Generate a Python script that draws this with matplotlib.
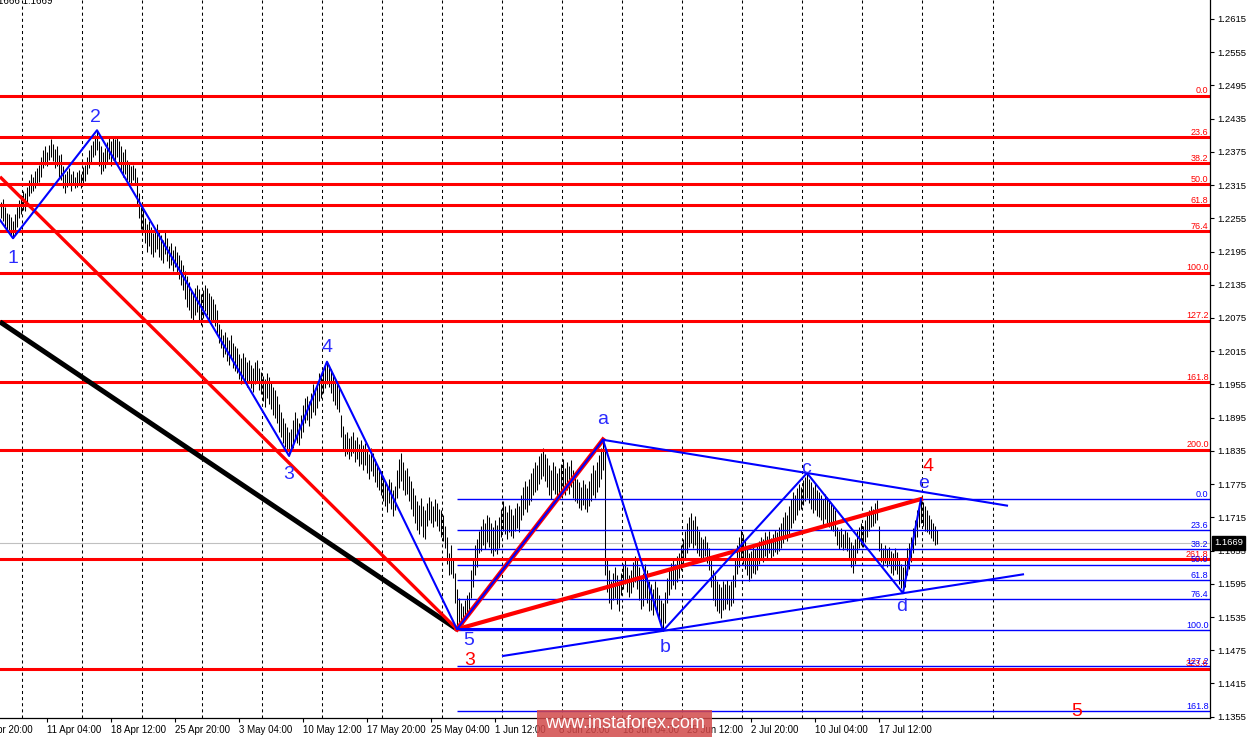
import numpy as np
import matplotlib
matplotlib.use("Agg")
import matplotlib.pyplot as plt
from matplotlib.patches import Rectangle
from matplotlib.transforms import blended_transform_factory

plt.rcParams['font.family'] = ['Liberation Sans', 'DejaVu Sans']
plt.rcParams['lines.scale_dashes'] = False

# EURUSD H4 bars, high / low in pips above 1.0000
highs = [
    2285, 2290, 2275, 2265, 2262, 2258, 2250, 2262,
    2275, 2288, 2298, 2305, 2300, 2312,
    2325, 2335, 2330, 2340, 2345, 2352,
    2365, 2378, 2385, 2375, 2388, 2398, 2390,
    2380, 2385, 2370, 2372, 2350, 2335,
    2340, 2345, 2335, 2340, 2330, 2338, 2342, 2335, 2348, 2352,
    2365, 2378, 2388, 2395, 2405, 2414,
    2395, 2385, 2375, 2382, 2392, 2400, 2395, 2402, 2398, 2403, 2395, 2385, 2375, 2380,
    2360, 2355, 2350, 2352, 2345,
    2330, 2300, 2275, 2270, 2255, 2245, 2250, 2240, 2228, 2238, 2245, 2230,
    2225, 2215, 2232, 2220, 2205, 2210, 2198, 2205, 2195, 2188, 2180, 2170, 2160,
    2150, 2140, 2125, 2120, 2130, 2135,
    2128, 2118, 2125, 2135, 2130, 2120, 2115, 2110, 2100, 2090,
    2065, 2055, 2045, 2050, 2040, 2035, 2045, 2030, 2025,
    2020, 2010, 2002, 2012, 2005, 1995, 2000, 1990, 1985, 1995, 2000, 1985, 1978,
    1970, 1965, 1975, 1968, 1960, 1950, 1945,
    1935, 1920, 1905, 1895, 1885, 1878, 1870,
    1875, 1890, 1905, 1895, 1885, 1900, 1918, 1930, 1935, 1925, 1940, 1955, 1948, 1962, 1975, 1968, 1980, 1988, 1996,
    1990, 1982, 1970, 1965, 1955, 1948,
    1900, 1880, 1865, 1870, 1858,
    1862, 1870, 1855, 1860, 1848, 1855, 1845, 1850, 1838, 1830, 1840, 1832, 1820, 1812, 1805,
    1798, 1790, 1780, 1772, 1785, 1778, 1765, 1772,
    1800, 1820, 1832, 1815, 1800, 1805, 1790,
    1780, 1768, 1755, 1745, 1738, 1750, 1735, 1728,
    1740, 1752, 1745, 1735, 1748, 1740, 1730,
    1728, 1720, 1700, 1680, 1650, 1665, 1640, 1615, 1585,
    1570, 1560, 1555, 1565, 1575, 1580, 1620, 1640, 1665, 1675,
    1690, 1700, 1712, 1705, 1720, 1715, 1705, 1698, 1710, 1702, 1715,
    1730, 1745, 1735, 1725, 1738, 1730, 1720, 1732, 1740, 1735,
    1755, 1770, 1780, 1772, 1785, 1795, 1805, 1815, 1810, 1825, 1832, 1840, 1830,
    1822, 1810, 1800, 1815, 1808, 1795, 1805,
    1812, 1820, 1805, 1815, 1808, 1818, 1800, 1795,
    1785, 1778, 1770, 1782, 1775, 1768, 1780,
    1795, 1810, 1800, 1815, 1828, 1840, 1855,
    1840, 1640, 1620, 1600, 1615, 1625, 1610, 1600,
    1615, 1630, 1640, 1625, 1610, 1620, 1635, 1645,
    1640, 1625, 1605, 1615, 1630, 1620, 1600,
    1595, 1585, 1600, 1590, 1575, 1565, 1560, 1580,
    1605, 1620, 1632, 1640, 1630, 1645, 1650,
    1665, 1675, 1690, 1705, 1715, 1722, 1710, 1718, 1700, 1690,
    1680, 1675, 1682, 1670, 1660, 1640, 1620, 1610, 1600, 1595,
    1590, 1600, 1595, 1602, 1592, 1600, 1610,
    1640, 1665, 1680, 1692, 1685, 1675,
    1660, 1650, 1655, 1665, 1658, 1668,
    1672, 1680, 1675, 1688, 1682, 1690, 1678, 1685, 1692, 1688, 1698,
    1705, 1715, 1725, 1720, 1735, 1748, 1760, 1755, 1768, 1775, 1770, 1782, 1788, 1795,
    1785, 1778, 1770, 1775, 1765, 1760,
    1755, 1748, 1758, 1752, 1745, 1740, 1735, 1728,
    1698, 1690, 1695, 1685, 1692, 1688, 1680, 1670, 1665, 1675,
    1690, 1698, 1705, 1700, 1710, 1720, 1728, 1735, 1730, 1740, 1746,
    1700, 1668, 1660, 1665, 1658, 1662, 1655, 1650, 1660, 1652, 1640,
    1630, 1625, 1640, 1660, 1668, 1680, 1695, 1710, 1728, 1740, 1748, 1742, 1735, 1728, 1720, 1712, 1705, 1700, 1692,
]
lows = [
    2255, 2250, 2240, 2232, 2228, 2225, 2219, 2226,
    2240, 2255, 2262, 2270, 2268, 2280,
    2295, 2300, 2305, 2310, 2318, 2320,
    2330, 2345, 2352, 2350, 2360, 2365, 2358,
    2345, 2350, 2330, 2325, 2310, 2300,
    2312, 2318, 2305, 2315, 2310, 2312, 2315, 2310, 2318, 2322,
    2335, 2345, 2355, 2365, 2370, 2378,
    2350, 2335, 2340, 2345, 2355, 2362, 2350, 2360, 2355, 2365, 2355, 2340, 2330, 2335,
    2325, 2320, 2318, 2325, 2315,
    2280, 2255, 2235, 2230, 2210, 2195, 2205, 2190, 2185, 2195, 2200, 2185,
    2180, 2175, 2190, 2178, 2165, 2170, 2160, 2168, 2158, 2145, 2135, 2125, 2110,
    2095, 2090, 2075, 2068, 2080, 2085,
    2070, 2062, 2075, 2088, 2080, 2070, 2065, 2068, 2060, 2045,
    2030, 2020, 2005, 2010, 1998, 1990, 2005, 1985, 1980,
    1975, 1965, 1955, 1968, 1960, 1950, 1958, 1948, 1942, 1955, 1960, 1945, 1938,
    1925, 1915, 1930, 1920, 1910, 1900, 1895,
    1885, 1870, 1860, 1850, 1842, 1835, 1826,
    1835, 1840, 1855, 1850, 1845, 1858, 1870, 1885, 1890, 1880, 1895, 1905, 1900, 1912, 1925, 1930, 1940, 1948, 1955,
    1950, 1940, 1925, 1918, 1910, 1905,
    1860, 1835, 1825, 1830, 1820,
    1825, 1832, 1815, 1820, 1808, 1812, 1800, 1810, 1795, 1785, 1798, 1790, 1778, 1770, 1765,
    1755, 1745, 1735, 1725, 1740, 1730, 1718, 1728,
    1750, 1768, 1780, 1765, 1755, 1758, 1745,
    1730, 1718, 1705, 1692, 1685, 1700, 1680, 1675,
    1700, 1710, 1705, 1698, 1708, 1700, 1690,
    1680, 1672, 1660, 1630, 1610, 1612, 1605, 1560, 1513,
    1520, 1528, 1522, 1530, 1535, 1540, 1570, 1590, 1610, 1625,
    1650, 1655, 1665, 1658, 1670, 1662, 1650, 1645, 1655, 1648, 1660,
    1680, 1690, 1685, 1675, 1688, 1682, 1678, 1690, 1695, 1688,
    1710, 1720, 1730, 1725, 1738, 1745, 1755, 1760, 1765, 1775, 1785, 1790, 1780,
    1770, 1755, 1748, 1765, 1758, 1745, 1752,
    1760, 1768, 1755, 1765, 1758, 1770, 1750, 1745,
    1740, 1732, 1728, 1738, 1730, 1725, 1735,
    1745, 1755, 1750, 1760, 1770, 1785, 1800,
    1610, 1580, 1560, 1550, 1565, 1570, 1558, 1545,
    1575, 1585, 1595, 1580, 1572, 1578, 1590, 1598,
    1585, 1565, 1550, 1555, 1570, 1560, 1545,
    1548, 1538, 1550, 1540, 1528, 1520, 1510, 1525,
    1560, 1575, 1585, 1592, 1585, 1598, 1605,
    1620, 1630, 1640, 1650, 1662, 1668, 1660, 1665, 1650, 1645,
    1640, 1638, 1645, 1632, 1620, 1590, 1565, 1555, 1545, 1542,
    1533, 1548, 1550, 1558, 1548, 1555, 1560,
    1590, 1612, 1625, 1640, 1630, 1622,
    1610, 1600, 1605, 1615, 1612, 1620,
    1630, 1638, 1635, 1645, 1640, 1650, 1638, 1645, 1652, 1648, 1655,
    1660, 1668, 1675, 1672, 1685, 1695, 1705, 1710, 1720, 1728, 1730, 1738, 1745, 1750,
    1740, 1730, 1722, 1728, 1718, 1715,
    1710, 1700, 1712, 1705, 1698, 1692, 1690, 1682,
    1665, 1658, 1662, 1656, 1660, 1655, 1640, 1625, 1614, 1630,
    1650, 1660, 1665, 1662, 1670, 1680, 1690, 1698, 1700, 1705, 1710,
    1655, 1635, 1628, 1632, 1625, 1630, 1615, 1610, 1620, 1612, 1595,
    1588, 1578, 1590, 1610, 1622, 1635, 1650, 1665, 1680, 1698, 1705, 1700, 1690, 1688, 1685, 1678, 1672, 1665, 1666,
]
assert len(highs) == len(lows)

last_price = 1.1669
header_text = '1.1666 1.1669'

date_ticks = [-9, 23, 55, 87, 119, 151, 183, 215, 247, 279, 311, 343, 375, 407, 439]
date_labels = ['4 Apr 20:00', '11 Apr 04:00', '18 Apr 12:00', '25 Apr 20:00',
               '3 May 04:00', '10 May 12:00', '17 May 20:00', '25 May 04:00',
               '1 Jun 12:00', '8 Jun 20:00', '18 Jun 04:00', '25 Jun 12:00',
               '2 Jul 20:00', '10 Jul 04:00', '17 Jul 12:00']
grid_bars = [10.35, 40.35, 70.35, 100.35, 130.35, 160.35, 190.35, 220.35, 250.35,
             280.35, 310.35, 340.35, 370.35, 400.35, 430.35, 460.35, 496.0]

price_ticks = [1.2615, 1.2555, 1.2495, 1.2435, 1.2375, 1.2315, 1.2255, 1.2195,
               1.2135, 1.2075, 1.2015, 1.1955, 1.1895, 1.1835, 1.1775, 1.1715,
               1.1655, 1.1595, 1.1535, 1.1475, 1.1415, 1.1355]

# big fibo (red) and triangle fibo (blue)
fib_red_0, fib_red_100 = 1.24765, 1.21568
fib_red_levels = [0.0, 23.6, 38.2, 50.0, 61.8, 76.4, 100.0, 127.2, 161.8, 200.0, 261.8, 323.6]
fib_blue_0, fib_blue_100 = 1.17476, 1.15110
fib_blue_levels = [0.0, 23.6, 38.2, 50.0, 61.8, 76.4, 100.0, 127.2, 161.8]

# wave marks
wave_names = ['1', '2', '3', '4', '5', 'a', 'b', 'c', 'd', 'e']
wave_bars = [6, 48, 144, 163, 228, 301, 331, 403, 451, 460]
wave_high = [False, True, False, True, False, True, False, True, False, True]
wave_offsets = [(0, -20), (-2, 13), (0, -19), (0, 14), (12, -11),
                (0, 20), (2, -17), (-1, 5), (-1, -13), (3, 16)]
zigzag_start = (-0.5, 1.2252)
red_channel_start = (-0.5, 1.2330)
black_line_start = (-0.5, 1.2068)
upper_end_bar = 503
lower_span = (251, 511)
target5 = (538, 1.1365)

BLUE = '#0000ff'
RED = '#ff0000'
LBLUE = '#2a2aff'

hi = 1 + np.array(highs) / 10000.0
lo = 1 + np.array(lows) / 10000.0
idx = np.arange(len(hi))

piv = [hi[b] if h else lo[b] for b, h in zip(wave_bars, wave_high)]
P = dict(zip(wave_names, zip(wave_bars, piv)))

fig = plt.figure(figsize=(12.5, 7.4), dpi=100)
ax = fig.add_axes([0, 22 / 740, 1210 / 1250, 718 / 740])

for s in ['top', 'left']:
    ax.spines[s].set_visible(False)
for s in ['right', 'bottom']:
    ax.spines[s].set_linewidth(0.9)

# grid
for g in grid_bars:
    ax.axvline(g, color='black', lw=0.75, ls=(0, (2.2, 2.2)), zorder=0.5)

# bid line
ax.axhline(last_price, color='#c0c0c0', lw=0.8, zorder=0.6)

# bars
ax.vlines(idx, lo, hi, color='black', lw=0.75, zorder=1)

# red fibo
rng = fib_red_0 - fib_red_100
for lv in fib_red_levels:
    y = fib_red_0 - lv / 100 * rng
    ax.axhline(y, color=RED, lw=2.2, zorder=2)
    ax.annotate(f'{lv:.1f}', xy=(603.8, y), xytext=(0, 0.3), textcoords='offset points',
                ha='right', va='bottom', fontsize=6.5, color=RED, zorder=5)

# blue fibo
rng = fib_blue_0 - fib_blue_100
for lv in fib_blue_levels:
    y = fib_blue_0 - lv / 100 * rng
    ax.hlines(y, P['5'][0], 604.5, color=BLUE, lw=1.0, zorder=2)
    ax.annotate(f'{lv:.1f}', xy=(603.8, y), xytext=(0, 0.3), textcoords='offset points',
                ha='right', va='bottom', fontsize=6.5, color=BLUE, zorder=5)

# channel lines
p5 = P['5']
ax.plot([black_line_start[0], p5[0]], [black_line_start[1], p5[1]], color='black', lw=3.6,
        solid_capstyle='butt', zorder=3)
ax.plot([red_channel_start[0], p5[0]], [red_channel_start[1], p5[1]], color=RED, lw=2.4,
        solid_capstyle='butt', zorder=3)
ax.plot([p5[0], P['a'][0]], [p5[1], P['a'][1]], color=RED, lw=3.4, zorder=3)
ax.plot([p5[0], P['e'][0]], [p5[1], P['e'][1]], color=RED, lw=3.0, zorder=3.2)

# triangle borders
a, c = P['a'], P['c']
k = (c[1] - a[1]) / (c[0] - a[0])
ax.plot([a[0], upper_end_bar], [a[1], a[1] + k * (upper_end_bar - a[0])], color=BLUE, lw=1.5, zorder=3.3)
b, d = P['b'], P['d']
k = (d[1] - b[1]) / (d[0] - b[0])
ax.plot(list(lower_span), [b[1] + k * (x - b[0]) for x in lower_span], color=BLUE, lw=1.5, zorder=3.3)
ax.plot([p5[0], b[0]], [p5[1], p5[1]], color=BLUE, lw=1.5, zorder=3.3)

# zigzag
zx = [zigzag_start[0]] + wave_bars
zy = [zigzag_start[1]] + piv
ax.plot(zx, zy, color=BLUE, lw=1.5, zorder=3.5)

for name, (bx, py), (dx, dy) in zip(wave_names, P.values(), wave_offsets):
    ax.annotate(name, xy=(bx, py), xytext=(dx * 0.72, dy * 0.72), textcoords='offset points',
                ha='center', va='center', fontsize=14, color=LBLUE, zorder=6)
ax.annotate('3', xy=p5, xytext=(13 * 0.72, -31 * 0.72), textcoords='offset points',
            ha='center', va='center', fontsize=14, color=RED, zorder=6)
ax.annotate('4', xy=P['e'], xytext=(7 * 0.72, 33 * 0.72), textcoords='offset points',
            ha='center', va='center', fontsize=14, color=RED, zorder=6)
ax.text(target5[0], target5[1], '5', ha='center', va='center', fontsize=14, color=RED, zorder=6)

# axes
ax.yaxis.tick_right()
ax.set_yticks(price_ticks)
ax.set_yticklabels([f'{v:.4f}' for v in price_ticks], fontsize=6.8)
ax.tick_params(axis='y', direction='out', length=3, width=0.8, pad=2)
ax.set_xticks(date_ticks[1:])
ax.set_xticklabels(date_labels[1:], fontsize=7, family=['Liberation Sans Narrow', 'Liberation Sans'])
for t in ax.get_xticklabels():
    t.set_ha('left')
ax.tick_params(axis='x', direction='out', length=3, width=0.8, pad=2)

# limits after ticks (set_xticks would widen the view)
ax.set_xlim(-0.5, 604.5)
ax.set_ylim(1.13526, 1.26493)

# first date label starts left of the chart and is cut by the edge
trx = blended_transform_factory(ax.transData, ax.transAxes)
ax.annotate(date_labels[0], xy=(date_ticks[0], 0), xycoords=trx, xytext=(0, -5),
            textcoords='offset points', ha='left', va='top', fontsize=7,
            family=['Liberation Sans Narrow', 'Liberation Sans'], annotation_clip=False)

# current price tag
tr = blended_transform_factory(ax.transAxes, ax.transData)
ax.text(1.0 + 4 / 1210, last_price, f'{last_price:.4f}', transform=tr, ha='left', va='center',
        fontsize=6.8, color='white', clip_on=False, zorder=7,
        bbox=dict(boxstyle='square,pad=0.25', fc='black', ec='black'))

fig.text(-10 / 1250, 1 + 4 / 740, header_text, ha='left', va='top', fontsize=7)

# watermark
fig.add_artist(Rectangle((537 / 1250, 3 / 740), 175 / 1250, 27 / 740, transform=fig.transFigure,
                         fc='#d24a4a', ec='none', alpha=0.85, zorder=10))
fig.text(624.5 / 1250, 16.5 / 740, 'www.instaforex.com', ha='center', va='center',
         fontsize=13, color='white', zorder=11)

fig.savefig('out.png', dpi=100)
